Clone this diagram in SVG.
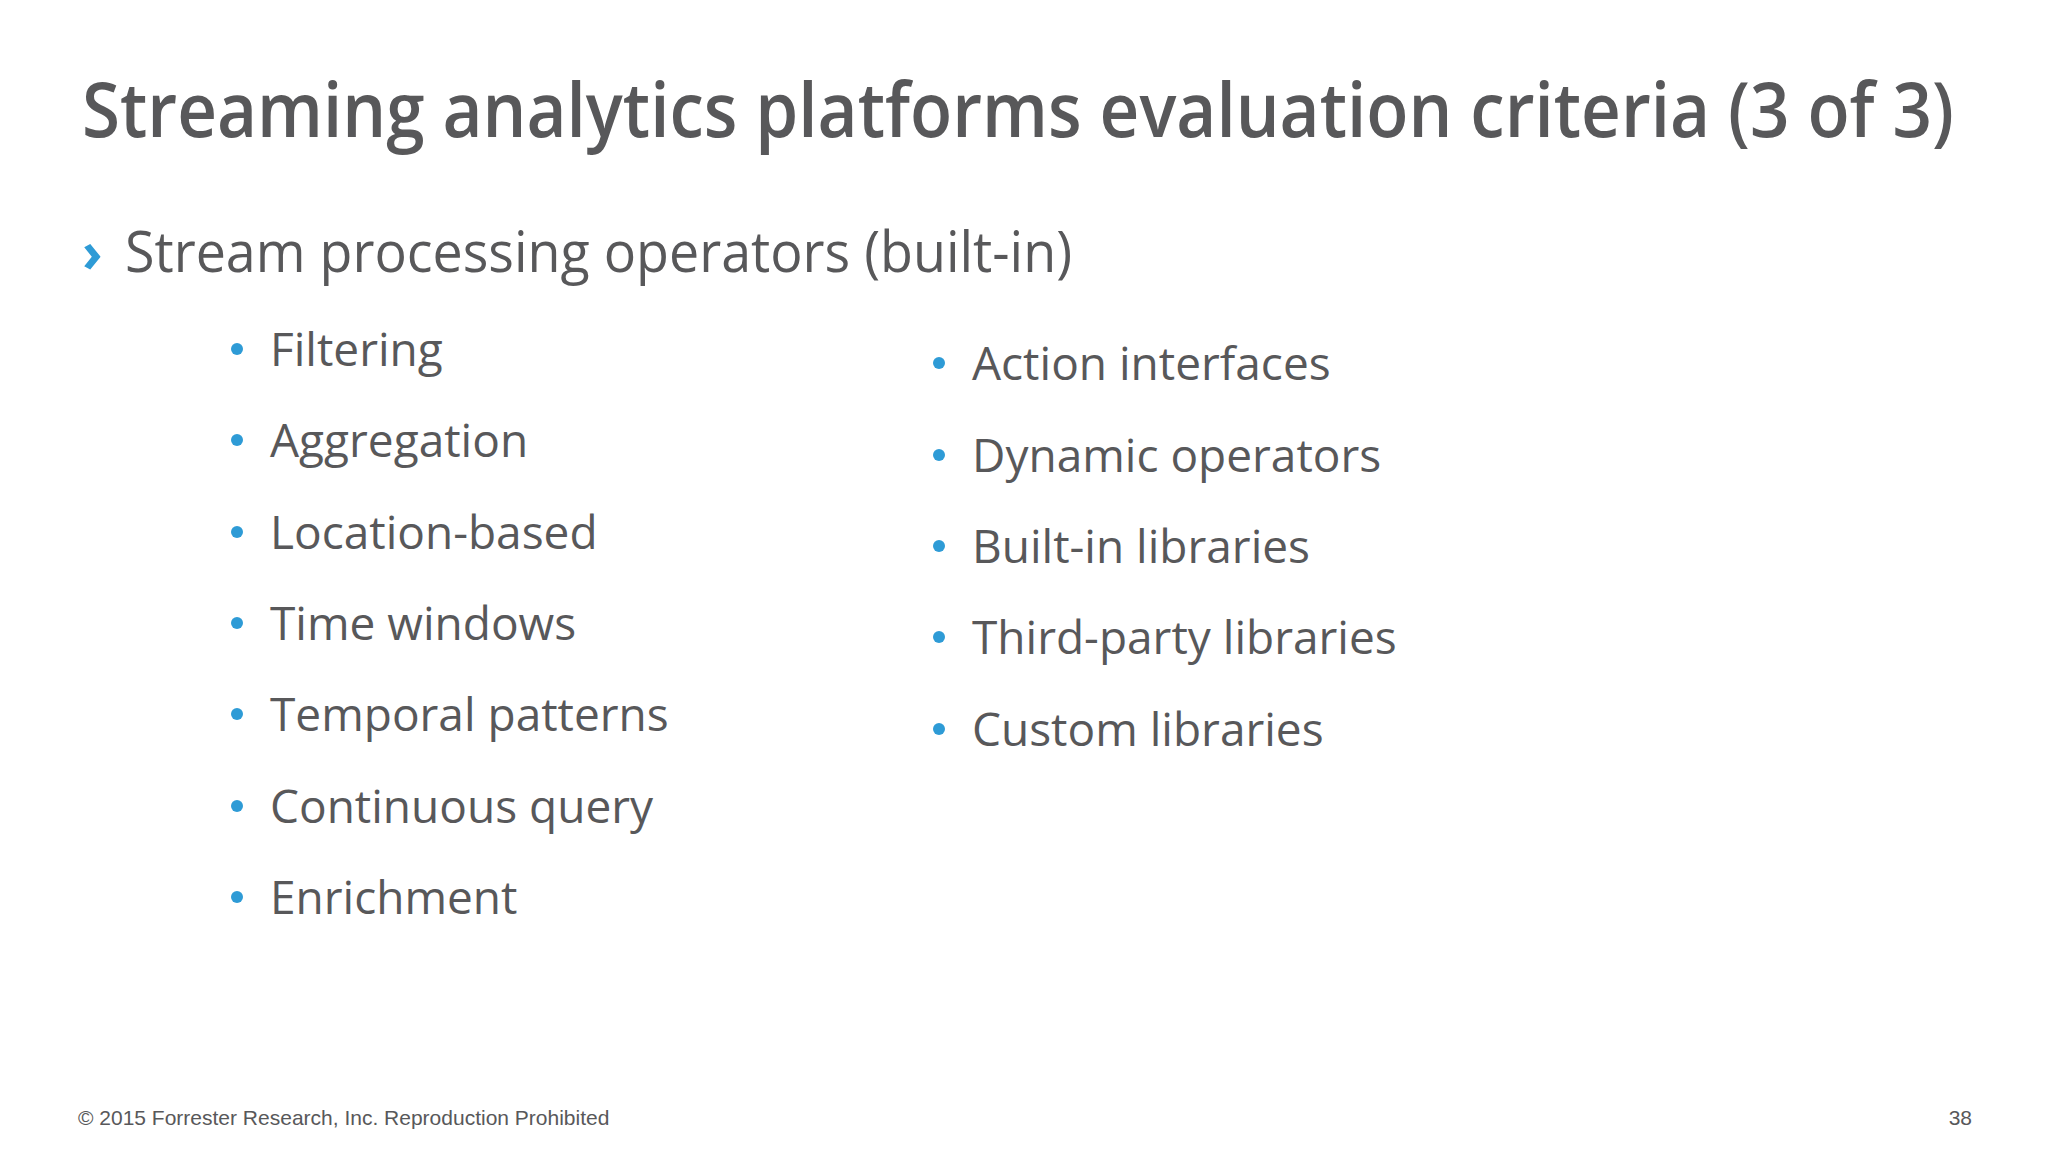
<svg xmlns="http://www.w3.org/2000/svg" width="2048" height="1152" viewBox="0 0 2048 1152">
<style>
text{font-family:"Open Sans","Liberation Sans",sans-serif;fill:#58585a}
.t{font-size:76px;font-weight:600}
.s{font-size:56px}
.b{font-size:46px}
.f{font-size:21px;font-family:"Liberation Sans",Arial,sans-serif}
.d{fill:#2e9bd6}
</style>
<rect width="2048" height="1152" fill="#ffffff"/>
<g id="title"><text class="t" x="82" y="137" textLength="1872" lengthAdjust="spacingAndGlyphs">Streaming analytics platforms evaluation criteria (3 of 3)</text></g>
<g id="heading"><text class="s d" x="82" y="272" style="fill:#2e9bd6;font-weight:bold">›</text><text class="s" x="125" y="272" textLength="947" lengthAdjust="spacingAndGlyphs">Stream processing operators (built-in)</text></g>
<g id="left">
<circle class="d" cx="237" cy="349" r="6"/><text class="b" x="270" y="366">Filtering</text>
<circle class="d" cx="237" cy="440" r="6"/><text class="b" x="270" y="457">Aggregation</text>
<circle class="d" cx="237" cy="532" r="6"/><text class="b" x="270" y="549">Location-based</text>
<circle class="d" cx="237" cy="623" r="6"/><text class="b" x="270" y="640">Time windows</text>
<circle class="d" cx="237" cy="714" r="6"/><text class="b" x="270" y="731">Temporal patterns</text>
<circle class="d" cx="237" cy="806" r="6"/><text class="b" x="270" y="823">Continuous query</text>
<circle class="d" cx="237" cy="897" r="6"/><text class="b" x="270" y="914">Enrichment</text>
</g>
<g id="right">
<circle class="d" cx="939" cy="363" r="6"/><text class="b" x="972" y="380">Action interfaces</text>
<circle class="d" cx="939" cy="455" r="6"/><text class="b" x="972" y="472">Dynamic operators</text>
<circle class="d" cx="939" cy="546" r="6"/><text class="b" x="972" y="563">Built-in libraries</text>
<circle class="d" cx="939" cy="637" r="6"/><text class="b" x="972" y="654">Third-party libraries</text>
<circle class="d" cx="939" cy="729" r="6"/><text class="b" x="972" y="746">Custom libraries</text>
</g>
<g id="footer"><text class="f" x="78" y="1125">© 2015 Forrester Research, Inc. Reproduction Prohibited</text><text class="f" x="1972" y="1125" text-anchor="end">38</text></g>
</svg>
